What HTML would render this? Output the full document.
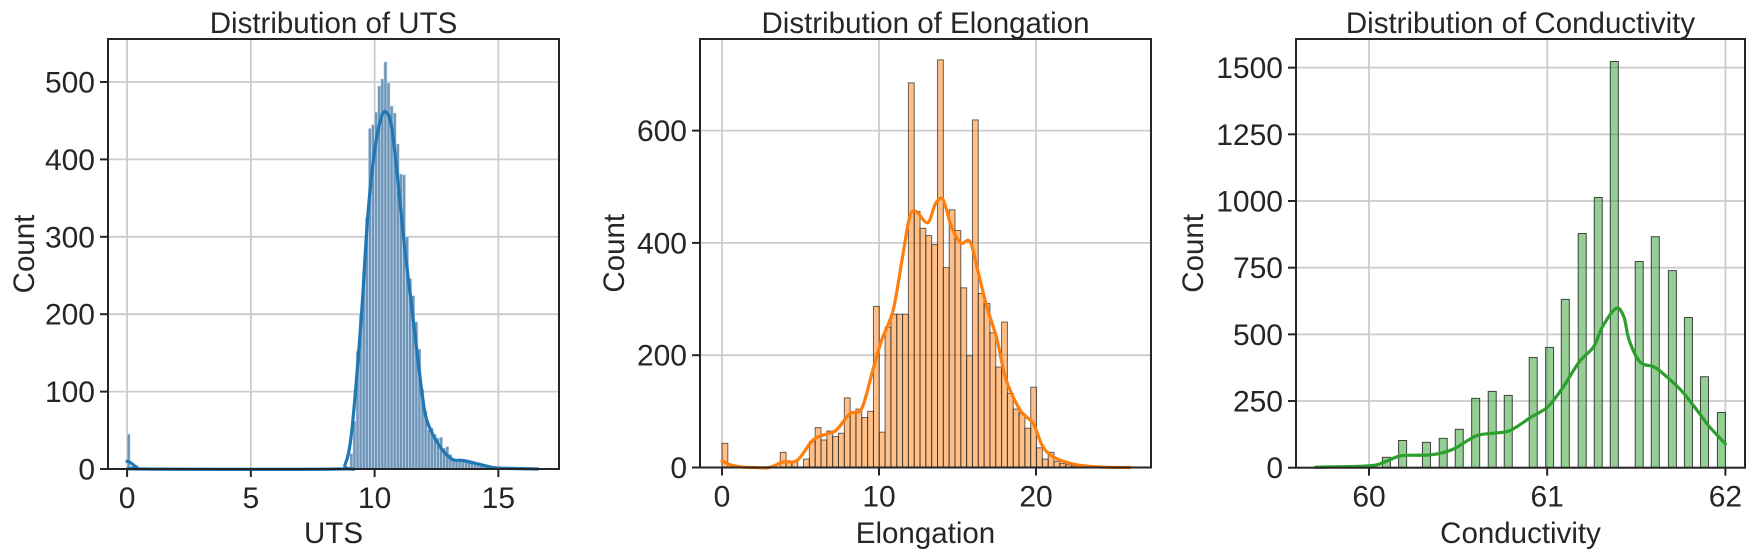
<!DOCTYPE html>
<html><head><meta charset="utf-8"><style>
html,body{margin:0;padding:0;background:#fff;}
svg{display:block;font-family:"Liberation Sans",sans-serif;}
</style></head><body>
<svg id="chart" width="1755" height="555" viewBox="0 0 1755 555" xmlns="http://www.w3.org/2000/svg"></svg>
<script>
// ---- UTS data ----
const utsBinStart = [0, 9.0,9.125,9.25,9.375,9.5,9.625,9.75,9.875,10.0,10.125,10.25,10.375,10.5,10.625,10.75,10.875,11.0,11.125,11.25,11.375,11.5,11.625,11.75,11.875,12.0,12.125,12.25,12.375,12.5,12.625,12.75,12.875,13.0,13.125,13.25,13.375,13.5,13.625,13.75,13.875,14.0,14.125,14.25,14.375,14.5,14.625,14.75,14.875,15.0,15.5,16.0,16.5];
const utsCounts = [45, 20,62,152,200,256,325,440,445,461,495,504,526,499,469,460,420,381,380,300,246,224,190,155,103,75,51,53,45,40,41,27,29,19,12,12,13,10,10,9,8,7,6,4,3,2,2,1,1,1,1,1,1];
const utsKdeX = [0,0.15,0.4,0.7,8.5,8.8,9.08,9.46,9.72,10.0,10.27,10.47,10.67,10.9,11.2,11.48,11.7,12.02,12.3,12.5,12.8,13.17,13.57,14.24,14.78,15.2,16.6];
const utsKdeY = [10,8,2,0,0,5,50,195,325,411,454,461,445,385,290,215,155,75,48,36,22,12,11,6,2,1,0];
const utsXTicks = [0,5,10,15];
const utsYTicks = [0,100,200,300,400,500];
// ---- Elongation data ----
const elongCounts = [43,0,0,0,0,0,0,0,0,0,27,10,10,0,15,46,71,49,65,55,61,124,97,104,89,100,287,63,250,273,273,273,685,456,426,413,397,726,356,459,422,320,199,619,310,292,240,179,259,132,104,96,70,143,35,15,27,11,7,5,3,2,1];
const elongKdeX = [0,0.5,1.2,2,3,3.9,4.8,5.8,6.7,7.3,8.15,8.9,9.64,10.17,10.9,11.5,11.95,12.36,13.1,13.6,14.08,14.6,15.2,15.8,16.3,16.86,17.5,18.1,19.0,19.83,20.4,21.1,22.4,24,26];
const elongKdeY = [12,5,1,0,0,10,13,49,60,67,96,105,177,227,280,375,446,456,436,470,477,430,400,402,350,287,230,156,102,78,39,19,6,1,0];
const elongXTicks = [0,10,20];
const elongYTicks = [0,200,400,600];
// ---- Conductivity data ----
const condBinStart = [59.79,59.983,60.075,60.166,60.30,60.394,60.484,60.576,60.669,60.759,60.899,60.991,61.079,61.174,61.264,61.354,61.494,61.584,61.680,61.770,61.860,61.955];
const condCounts = [4,10,39,102,95,110,144,260,286,271,413,451,631,878,1013,1523,773,866,739,563,341,207];
const condKdeX = [59.7,60.0,60.09,60.18,60.32,60.40,60.48,60.6,60.69,60.79,60.91,61.005,61.09,61.18,61.26,61.31,61.386,61.43,61.46,61.52,61.6,61.65,61.75,61.84,61.91,62.0];
const condKdeY = [2,7,22,45,47,54,72,119,129,139,190,229,303,397,453,528,597,566,478,397,378,353,291,216,154,89];
const condXTicks = [60,61,62];
const condYTicks = [0,250,500,750,1000,1250,1500];

const NS = "http://www.w3.org/2000/svg";
const svg = document.getElementById('chart');
function mk(tag, attrs, parent){const e=document.createElementNS(NS,tag);for(const k in attrs)e.setAttribute(k,attrs[k]);(parent||svg).appendChild(e);return e;}

function smoothPath(pts){
  let d = "M"+pts[0][0].toFixed(2)+","+pts[0][1].toFixed(2);
  for(let i=0;i<pts.length-1;i++){
    const p0=pts[Math.max(0,i-1)],p1=pts[i],p2=pts[i+1],p3=pts[Math.min(pts.length-1,i+2)];
    const c1=[p1[0]+(p2[0]-p0[0])/6,p1[1]+(p2[1]-p0[1])/6];
    const c2=[p2[0]-(p3[0]-p1[0])/6,p2[1]-(p3[1]-p1[1])/6];
    d+=" C"+c1[0].toFixed(2)+","+c1[1].toFixed(2)+" "+c2[0].toFixed(2)+","+c2[1].toFixed(2)+" "+p2[0].toFixed(2)+","+p2[1].toFixed(2);
  }
  return d;
}

function panel(p){
  const g = mk('g',{});
  
  
  const X = v => p.x0px + (v - p.x0v)*p.xs;
  const Y = c => p.y0px - c*p.ys;
  p.xticks.forEach(t=>{
    const l=mk('line',{x1:X(t),x2:X(t),y1:p.top,y2:p.bottom,stroke:'#cccccc','stroke-width':1.8},g);
    
    
  });
  p.yticks.forEach(t=>{
    const l=mk('line',{x1:p.left,x2:p.right,y1:Y(t),y2:Y(t),stroke:'#cccccc','stroke-width':1.8},g);
    
    
  });
  p.starts.forEach((s,i)=>{
    const c=p.counts[i]; if(c<=0) return;
    const r=mk('rect',{x:X(s),y:Y(c),width:p.bw*p.xs,height:c*p.ys,fill:p.fill,stroke:p.edge,'stroke-width':p.ew},g);
    
    
  });
  const pts=p.kx.map((v,i)=>[X(v),Y(p.ky[i])]);
  const k=mk('path',{d:smoothPath(pts),fill:'none',stroke:p.line,'stroke-width':3.2,'stroke-linejoin':'round','stroke-linecap':'round'},g);
  
  
  const f=mk('rect',{x:p.left,y:p.top,width:p.right-p.left,height:p.bottom-p.top,fill:'none',stroke:'#262626','stroke-width':2},g);
  
  
  p.xticks.forEach(t=>{
    mk('line',{x1:X(t),x2:X(t),y1:p.bottom,y2:p.bottom+8,stroke:'#262626','stroke-width':2},g);
    const tx=mk('text',{x:X(t),y:p.bottom+39,'text-anchor':'middle','font-size':30,fill:'#262626'},g);
    tx.textContent=t;
    
    
  });
  p.yticks.forEach(t=>{
    mk('line',{x1:p.left-8,x2:p.left,y1:Y(t),y2:Y(t),stroke:'#262626','stroke-width':2},g);
    const tx=mk('text',{x:p.left-13,y:Y(t)+10.5,'text-anchor':'end','font-size':30,fill:'#262626'},g);
    tx.textContent=t;
    
    
  });
  const ti=mk('text',{x:(p.left+p.right)/2,y:33,'text-anchor':'middle','font-size':29.5,fill:'#262626'},g);
  ti.textContent=p.title;
  
  
  const xl=mk('text',{x:(p.left+p.right)/2,y:543,'text-anchor':'middle','font-size':29.5,fill:'#262626'},g);
  xl.textContent=p.xlabel;
  
  
  const yl=mk('text',{x:0,y:0,'text-anchor':'middle','font-size':29.5,fill:'#262626',transform:'translate('+p.ylx+','+((p.top+p.bottom)/2)+') rotate(-90)'},g);
  yl.textContent='Count';
  
  
}

panel({name:'uts',title:'Distribution of UTS',xlabel:'UTS',left:108,right:559,top:39,bottom:469,
  x0px:127.1,x0v:0,xs:24.75,y0px:469,ys:0.774,xticks:utsXTicks,yticks:utsYTicks,
  starts:utsBinStart,counts:utsCounts,bw:0.125,fill:'#6f96b8',edge:'rgba(210,225,240,0.8)',ew:0.7,
  kx:utsKdeX,ky:utsKdeY,line:'#1f77b4',ylx:34});
panel({name:'elongation',title:'Distribution of Elongation',xlabel:'Elongation',left:700,right:1151,top:39,bottom:467.5,
  x0px:722,x0v:0,xs:15.7,y0px:467.5,ys:0.5615,xticks:elongXTicks,yticks:elongYTicks,
  starts:elongCounts.map((c,i)=>i*0.371),counts:elongCounts,bw:0.371,fill:'rgba(255,127,14,0.5)',edge:'rgba(38,38,38,0.7)',ew:1,
  kx:elongKdeX,ky:elongKdeY,line:'#ff7f0e',ylx:624});
panel({name:'conductivity',title:'Distribution of Conductivity',xlabel:'Conductivity',left:1296,right:1745,top:39,bottom:467.7,
  x0px:1369,x0v:60,xs:178.2,y0px:467.7,ys:0.2667,xticks:condXTicks,yticks:condYTicks,
  starts:condBinStart,counts:condCounts,bw:0.045,fill:'rgba(44,160,44,0.5)',edge:'rgba(38,38,38,0.85)',ew:1,
  kx:condKdeX,ky:condKdeY,line:'#2ca02c',ylx:1203});
</script>
</body></html>
